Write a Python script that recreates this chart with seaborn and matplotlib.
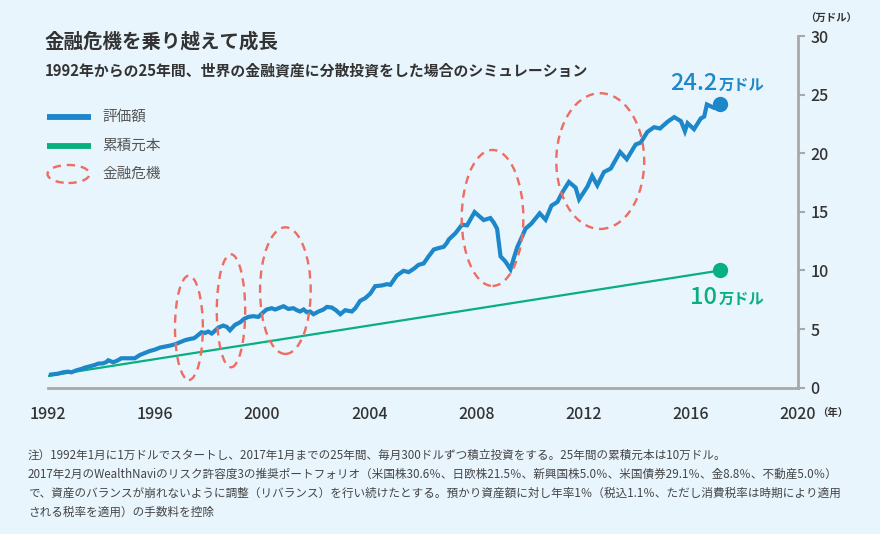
import matplotlib
matplotlib.use("Agg")
import matplotlib.pyplot as plt
from matplotlib.patches import Ellipse
from matplotlib.lines import Line2D
import seaborn as sns
import pandas as pd

# ---------------- data ----------------
title = "金融危機を乗り越えて成長"
subtitle = "1992年からの25年間、世界の金融資産に分散投資をした場合のシミュレーション"
legend_labels = ["評価額", "累積元本", "金融危機"]
unit_y = "（万ドル）"
unit_x = "（年）"
value_unit = "万ドル"
x_ticks = [1992, 1996, 2000, 2004, 2008, 2012, 2016, 2020]
y_ticks = [0, 5, 10, 15, 20, 25, 30]

value_years = [
    1992.05, 1992.39, 1992.57, 1992.76, 1992.88, 1993.07, 1993.26, 1993.38, 1993.57, 1993.76,
    1993.88, 1994.07, 1994.19, 1994.26, 1994.44, 1994.57, 1994.75, 1994.94, 1995.25, 1995.44,
    1995.63, 1995.81, 1996.00, 1996.19, 1996.37, 1996.56, 1996.75, 1996.93, 1997.12, 1997.31,
    1997.46, 1997.56, 1997.74, 1997.87, 1997.99, 1998.12, 1998.18, 1998.37, 1998.55, 1998.68,
    1998.80, 1998.99, 1999.18, 1999.33, 1999.49, 1999.68, 1999.86, 2000.05, 2000.17, 2000.36,
    2000.49, 2000.61, 2000.80, 2000.98, 2001.17, 2001.30, 2001.42, 2001.55, 2001.67, 2001.79,
    2001.92, 2002.11, 2002.29, 2002.42, 2002.60, 2002.76, 2002.92, 2003.10, 2003.35, 2003.48,
    2003.66, 2003.85, 2004.04, 2004.22, 2004.47, 2004.66, 2004.79, 2005.03, 2005.28, 2005.47,
    2005.66, 2005.84, 2006.03, 2006.22, 2006.41, 2006.59, 2006.78, 2006.90, 2006.97, 2007.21,
    2007.46, 2007.65, 2007.93, 2008.27, 2008.52, 2008.65, 2008.77, 2008.90, 2009.08, 2009.27,
    2009.40, 2009.52, 2009.71, 2009.83, 2010.05, 2010.36, 2010.58, 2010.80, 2011.02, 2011.20,
    2011.45, 2011.70, 2011.83, 2012.14, 2012.32, 2012.51, 2012.76, 2013.01, 2013.36, 2013.61,
    2013.94, 2014.13, 2014.38, 2014.63, 2014.85, 2015.13, 2015.38, 2015.63, 2015.78, 2015.88,
    2016.12, 2016.37, 2016.50, 2016.60, 2016.87, 2017.10,
]
value_amounts = [
    1.10, 1.20, 1.31, 1.37, 1.31, 1.48, 1.60, 1.71, 1.82, 1.94,
    2.05, 2.08, 2.19, 2.34, 2.17, 2.28, 2.51, 2.51, 2.51, 2.79,
    2.96, 3.13, 3.25, 3.42, 3.50, 3.59, 3.70, 3.87, 4.05, 4.16,
    4.22, 4.39, 4.73, 4.67, 4.79, 4.62, 4.73, 5.13, 5.30, 5.19,
    4.90, 5.36, 5.58, 5.87, 6.04, 6.10, 6.04, 6.44, 6.67, 6.78,
    6.67, 6.78, 6.95, 6.72, 6.78, 6.61, 6.50, 6.67, 6.44, 6.50,
    6.27, 6.50, 6.67, 6.89, 6.84, 6.60, 6.27, 6.61, 6.50, 6.78,
    7.41, 7.64, 8.03, 8.66, 8.72, 8.83, 8.78, 9.57, 9.97, 9.86,
    10.14, 10.48, 10.60, 11.22, 11.79, 11.91, 12.02, 12.36, 12.65, 13.16,
    13.90, 13.85, 14.98, 14.30, 14.47, 14.07, 13.56, 11.20, 10.77, 10.10,
    11.10, 11.97, 12.93, 13.56, 14.00, 14.87, 14.33, 15.53, 15.84, 16.64,
    17.55, 17.07, 16.07, 17.15, 18.06, 17.26, 18.40, 18.69, 20.11, 19.49,
    20.74, 20.91, 21.82, 22.22, 22.11, 22.68, 23.08, 22.74, 21.88, 22.56,
    22.05, 22.96, 23.13, 24.16, 23.87, 24.20,
]
principal_years = [1992.0, 2017.1]
principal_amounts = [1.0, 10.0]

# crisis ellipses: centre year, centre value, width (years), height (万ドル)
crisis_cx = [1997.27, 1998.84, 2000.87, 2008.60, 2012.62]
crisis_cy = [5.11, 6.56, 8.28, 14.48, 19.33]
crisis_w = [1.04, 1.06, 1.89, 2.30, 3.28]
crisis_h = [8.90, 9.64, 10.80, 11.60, 11.58]

footnotes = [
    "注）1992年1月に1万ドルでスタートし、2017年1月までの25年間、毎月300ドルずつ積立投資をする。25年間の累積元本は10万ドル。",
    "2017年2月のWealthNaviのリスク許容度3の推奨ポートフォリオ（米国株30.6％、日欧株21.5％、新興国株5.0％、米国債券29.1％、金8.8％、不動産5.0％）",
    "で、資産のバランスが崩れないように調整（リバランス）を行い続けたとする。預かり資産額に対し年率1％（税込1.1％、ただし消費税率は時期により適用",
    "される税率を適用）の手数料を控除",
]

# ---------------- style ----------------
BG = "#E8F5FD"
BLUE = "#1C87C9"
GREEN = "#08AF7F"
RED = "#EE6C62"
DARK = "#333333"
GREY = "#555555"
SPINE = "#A8A8A8"

sns.set_theme(style="white")
plt.rcParams["font.family"] = ["Noto Sans CJK JP", "DejaVu Sans"]

W, H = 880, 534
fig = plt.figure(figsize=(W / 100, H / 100), dpi=100, facecolor=BG)
ax_left, ax_right, ax_top, ax_bottom = 47.7, 798.0, 36.0, 387.7
ax = fig.add_axes([ax_left / W, 1 - ax_bottom / H, (ax_right - ax_left) / W, (ax_bottom - ax_top) / H])
ax.set_facecolor(BG)


def fx(x):
    return x / W


def fy(y):
    return 1 - y / H


df_val = pd.DataFrame({"year": value_years, "value": value_amounts})
df_pr = pd.DataFrame({"year": principal_years, "value": principal_amounts})

sns.lineplot(data=df_pr, x="year", y="value", ax=ax, color=GREEN, lw=1.6, zorder=3)
sns.lineplot(data=df_val, x="year", y="value", ax=ax, color=BLUE, lw=3.0, zorder=4,
             solid_joinstyle="miter", solid_capstyle="butt")
ax.plot([value_years[-1]], [value_amounts[-1]], "o", color=BLUE, ms=10, zorder=5)
ax.plot([principal_years[-1]], [principal_amounts[-1]], "o", color=GREEN, ms=10, zorder=5)

for cx, cy, w, h in zip(crisis_cx, crisis_cy, crisis_w, crisis_h):
    ax.add_patch(Ellipse((cx, cy), w, h, fill=False, edgecolor=RED, lw=1.7,
                         linestyle=(0, (3.5, 2.5)), zorder=6))

ax.set_xlim(1992, 2020)
ax.set_ylim(0, 30)
ax.set_xticks(x_ticks)
ax.set_yticks(y_ticks)
ax.set_xlabel("")
ax.set_ylabel("")
ax.yaxis.tick_right()
for s in ["left", "top"]:
    ax.spines[s].set_visible(False)
for s in ["right", "bottom"]:
    ax.spines[s].set_color(SPINE)
    ax.spines[s].set_linewidth(2.0)
ax.tick_params(axis="both", which="major", length=5, width=1.5, color=SPINE,
               labelcolor=DARK, labelsize=11.5, direction="out")
ax.tick_params(axis="x", pad=8)
ax.tick_params(axis="y", pad=4)
for lab in ax.get_xticklabels() + ax.get_yticklabels():
    lab.set_fontweight("medium")

# value annotations
fig.text(fx(717), fy(89.5), f"{value_amounts[-1]:.1f}", color=BLUE, fontsize=17,
         fontweight="medium", ha="right", va="baseline")
fig.text(fx(719), fy(89.5), value_unit, color=BLUE, fontsize=11, fontweight="bold",
         ha="left", va="baseline")
fig.text(fx(717), fy(303.5), f"{principal_amounts[-1]:.0f}", color=GREEN, fontsize=17,
         fontweight="medium", ha="right", va="baseline")
fig.text(fx(719), fy(303.5), value_unit, color=GREEN, fontsize=11, fontweight="bold",
         ha="left", va="baseline")

# units
fig.text(fx(831), fy(19), unit_y, color=DARK, fontsize=7.5, fontweight="bold", ha="center", va="center")
fig.text(fx(833), fy(413), unit_x, color=DARK, fontsize=7.5, fontweight="bold", ha="center", va="center")

# titles
fig.text(fx(45), fy(42), title, color=DARK, fontsize=14, fontweight="bold", ha="left", va="center")
fig.text(fx(45), fy(70), subtitle, color=DARK, fontsize=10.7, fontweight="bold", ha="left", va="center")

# legend (drawn manually)
leg_y = [117, 146, 174]
fig.add_artist(Line2D([fx(47), fx(91)], [fy(leg_y[0])] * 2, color=BLUE, lw=4.2,
                      solid_capstyle="butt", transform=fig.transFigure))
fig.add_artist(Line2D([fx(47), fx(91)], [fy(leg_y[1])] * 2, color=GREEN, lw=4.2,
                      solid_capstyle="butt", transform=fig.transFigure))
fig.add_artist(Ellipse((68.5 / 100, (H - leg_y[2]) / 100), 42 / 100, 18 / 100,
                       transform=fig.dpi_scale_trans, fill=False, edgecolor=RED, lw=1.7,
                       linestyle=(0, (3.5, 2.5))))
for yy, lab in zip(leg_y, legend_labels):
    fig.text(fx(102), fy(yy), lab, color=GREY, fontsize=10.5, ha="left", va="center")

# footnotes
for i, line in enumerate(footnotes):
    fig.text(fx(28), fy(455 + i * 19), line, color="#444444", fontsize=8.35,
             ha="left", va="center")

fig.savefig("out.png", dpi=100, facecolor=BG)
